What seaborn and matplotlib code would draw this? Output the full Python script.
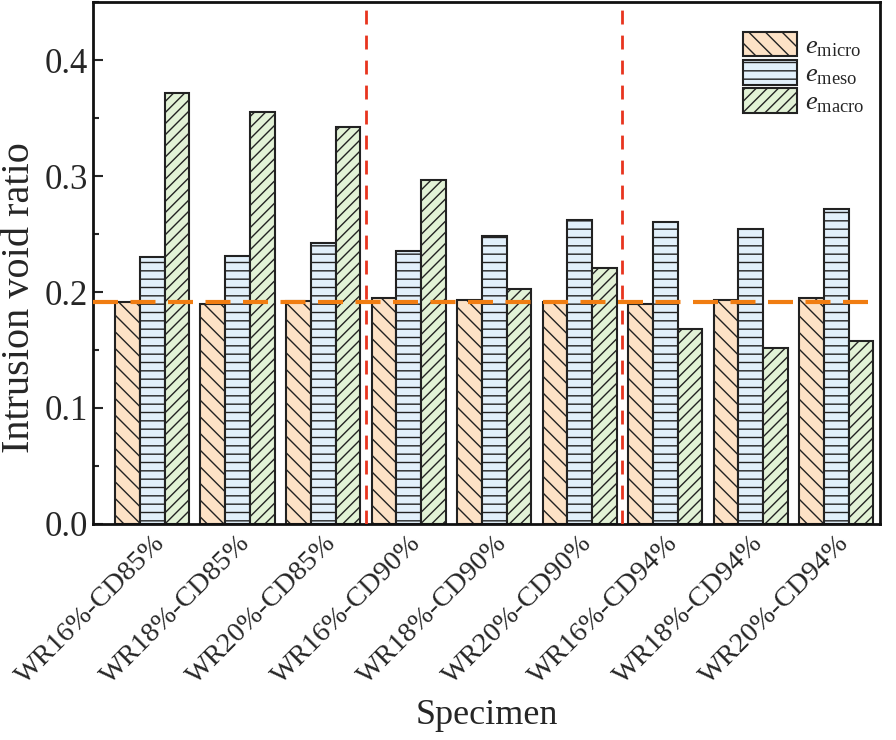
import numpy as np
import pandas as pd
import seaborn as sns
import matplotlib
matplotlib.use('Agg')
import matplotlib.pyplot as plt
from matplotlib.ticker import MultipleLocator

specimens = ['WR16%-CD85%', 'WR18%-CD85%', 'WR20%-CD85%',
             'WR16%-CD90%', 'WR18%-CD90%', 'WR20%-CD90%',
             'WR16%-CD94%', 'WR18%-CD94%', 'WR20%-CD94%']
e_micro = [0.191, 0.190, 0.192, 0.195, 0.193, 0.191, 0.190, 0.193, 0.195]
e_meso = [0.230, 0.231, 0.242, 0.235, 0.248, 0.262, 0.260, 0.254, 0.272]
e_macro = [0.372, 0.355, 0.342, 0.297, 0.203, 0.221, 0.168, 0.152, 0.158]
ref_line = 0.191

labels = [r'$e_{\rm micro}$', r'$e_{\rm meso}$', r'$e_{\rm macro}$']
fills = ['#fde2c6', '#e2f0fb', '#e2f2d6']
hatches = ['\\\\', '--', '///']

df = pd.DataFrame({
    'specimen': specimens * 3,
    'value': e_micro + e_meso + e_macro,
    'type': [labels[0]] * 9 + [labels[1]] * 9 + [labels[2]] * 9,
})

sns.set_style('ticks')
plt.rcParams['font.family'] = ['Liberation Serif', 'DejaVu Serif']
plt.rcParams['mathtext.fontset'] = 'custom'
plt.rcParams['mathtext.rm'] = 'Liberation Serif'
plt.rcParams['mathtext.it'] = 'Liberation Serif:italic'
plt.rcParams['hatch.linewidth'] = 1.0
plt.rcParams['hatch.color'] = '#3a3a3a'

fig = plt.figure(figsize=(8.96, 7.4), dpi=100)
ax = fig.add_axes([0.104, 0.292, 0.878, 0.705])

sns.barplot(data=df, x='specimen', y='value', hue='type', palette=fills,
            width=0.87, edgecolor='#222222', linewidth=1.5, saturation=1,
            legend=False, ax=ax)

for cont, h in zip(ax.containers, hatches):
    for p in cont:
        p.set_hatch(h)
        p.set_edgecolor('#222222')

ax.axhline(ref_line, color='#f07d12', lw=3, ls=(0, (6, 3)), zorder=5)
for xv in [2.5, 5.5]:
    ax.axvline(xv, color='#e8341e', lw=2, ls=(0, (5, 4)), zorder=5)

ax.set_xlim(-0.69, 8.51)
ax.set_ylim(0, 0.45)
ax.yaxis.set_major_locator(MultipleLocator(0.1))
ax.yaxis.set_minor_locator(MultipleLocator(0.05))
ax.yaxis.set_major_formatter(matplotlib.ticker.FormatStrFormatter('%.1f'))
ax.tick_params(axis='y', which='major', direction='in', length=7, width=1.5, labelsize=25, pad=4)
ax.tick_params(axis='y', which='minor', direction='in', length=4, width=1.5)
ax.tick_params(axis='x', length=0, labelsize=20.5, pad=5)
for lab in ax.get_xticklabels():
    lab.set_rotation(45)
    lab.set_ha('right')
    lab.set_rotation_mode('anchor')

for s in ax.spines.values():
    s.set_linewidth(2)
    s.set_color('#111111')

ax.set_xlabel('Specimen', fontsize=26, labelpad=7)
ax.set_ylabel('Intrusion void ratio', fontsize=29)
ax.yaxis.set_label_coords(-0.07, 0.433)

leg = ax.legend(ax.containers, labels, loc='upper left',
                bbox_to_anchor=(743 / 896, 1 - 32 / 740), bbox_transform=fig.transFigure,
                frameon=False, fontsize=19, handlelength=2.05, handleheight=1.05,
                labelspacing=0.05, handletextpad=0.3, borderpad=0, borderaxespad=0)

fig.savefig('out.png', dpi=100)
